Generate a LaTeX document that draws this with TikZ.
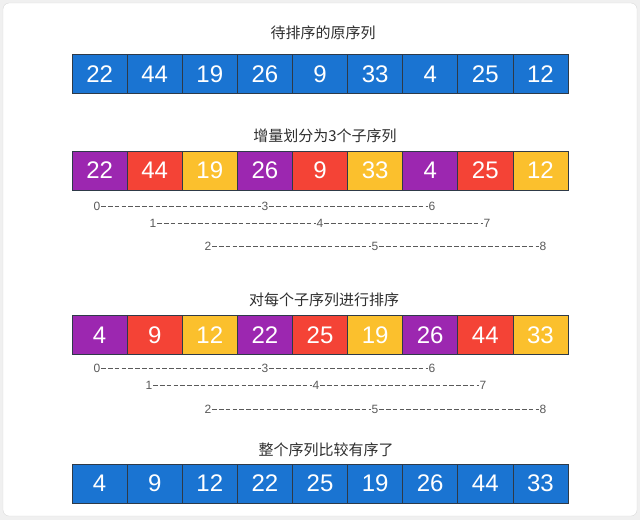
\documentclass[tikz,border=0pt]{standalone}
\usepackage{fontspec}
\setmainfont{Liberation Sans}
\newfontfamily\cjk{Noto Sans CJK SC}
\usepackage{xcolor}
\usepackage{tikz}

\definecolor{cellblue}{HTML}{1A74D2}
\definecolor{cellpurple}{HTML}{9C27B0}
\definecolor{cellred}{HTML}{F44336}
\definecolor{cellamber}{HTML}{FBC02D}
\definecolor{cellline}{HTML}{2E3A48}
\definecolor{idxgray}{HTML}{5A5A5A}

\tikzset{
	cell/.style={draw=cellline, line width=0.7pt, minimum width=55.1pt, minimum height=39pt,
		inner sep=0pt, text=white, font=\fontsize{24}{24}\selectfont},
	title/.style={font=\cjk\fontsize{15}{15}\selectfont, text=black!82},
	idx/.style={inner sep=0.6pt, text=idxgray, font=\fontsize{12}{12}\selectfont},
	idxline/.style={idxgray, line width=0.9pt, dash pattern=on 4.6pt off 2.2pt}
}

\begin{document}
\begin{tikzpicture}[x=1pt, y=-1pt]
			\useasboundingbox (0,0) rectangle (640,520);
			\fill[black!6] (0,0) rectangle (640,520);
			\draw[black!15, fill=white, rounded corners=6pt] (3,3) rectangle (637,516);
			
			\node[title] (t1) at (323,33) {待排序的原序列};
			\node[cell, fill=cellblue] (a1) at (99.6,74) {22};
			\node[cell, fill=cellblue] (a2) at (154.7,74) {44};
			\node[cell, fill=cellblue] (a3) at (209.8,74) {19};
			\node[cell, fill=cellblue] (a4) at (264.9,74) {26};
			\node[cell, fill=cellblue] (a5) at (320.0,74) {9};
			\node[cell, fill=cellblue] (a6) at (375.1,74) {33};
			\node[cell, fill=cellblue] (a7) at (430.2,74) {4};
			\node[cell, fill=cellblue] (a8) at (485.3,74) {25};
			\node[cell, fill=cellblue] (a9) at (540.4,74) {12};
			
			\node[title] (t2) at (325,136) {增量划分为3个子序列};
			\node[cell, fill=cellpurple] (b1) at (99.6,170.5) {22};
			\node[cell, fill=cellred] (b2) at (154.7,170.5) {44};
			\node[cell, fill=cellamber] (b3) at (209.8,170.5) {19};
			\node[cell, fill=cellpurple] (b4) at (264.9,170.5) {26};
			\node[cell, fill=cellred] (b5) at (320.0,170.5) {9};
			\node[cell, fill=cellamber] (b6) at (375.1,170.5) {33};
			\node[cell, fill=cellpurple] (b7) at (430.2,170.5) {4};
			\node[cell, fill=cellred] (b8) at (485.3,170.5) {25};
			\node[cell, fill=cellamber] (b9) at (540.4,170.5) {12};
			
			\node[idx] (p0) at (97,206) {0};
			\node[idx] (p3) at (265,206) {3};
			\node[idx] (p6) at (432,206) {6};
			\node[idx] (p1) at (153,223) {1};
			\node[idx] (p4) at (320,223) {4};
			\node[idx] (p7) at (487,223) {7};
			\node[idx] (p2) at (208,246) {2};
			\node[idx] (p5) at (375,246) {5};
			\node[idx] (p8) at (543,246) {8};
			
			\draw[idxline] (p0) -- (p3);
			\draw[idxline] (p3) -- (p6);
			\draw[idxline] (p1) -- (p4);
			\draw[idxline] (p4) -- (p7);
			\draw[idxline] (p2) -- (p5);
			\draw[idxline] (p5) -- (p8);
			
			\node[title] (t3) at (324,300) {对每个子序列进行排序};
			\node[cell, fill=cellpurple] (c1) at (99.6,335) {4};
			\node[cell, fill=cellred] (c2) at (154.7,335) {9};
			\node[cell, fill=cellamber] (c3) at (209.8,335) {12};
			\node[cell, fill=cellpurple] (c4) at (264.9,335) {22};
			\node[cell, fill=cellred] (c5) at (320.0,335) {25};
			\node[cell, fill=cellamber] (c6) at (375.1,335) {19};
			\node[cell, fill=cellpurple] (c7) at (430.2,335) {26};
			\node[cell, fill=cellred] (c8) at (485.3,335) {44};
			\node[cell, fill=cellamber] (c9) at (540.4,335) {33};
			
			\node[idx] (q0) at (97,368) {0};
			\node[idx] (q3) at (265,368) {3};
			\node[idx] (q6) at (432,368) {6};
			\node[idx] (q1) at (149,385) {1};
			\node[idx] (q4) at (316,385) {4};
			\node[idx] (q7) at (483,385) {7};
			\node[idx] (q2) at (208,409) {2};
			\node[idx] (q5) at (375,409) {5};
			\node[idx] (q8) at (543,409) {8};
			
			\draw[idxline] (q0) -- (q3);
			\draw[idxline] (q3) -- (q6);
			\draw[idxline] (q1) -- (q4);
			\draw[idxline] (q4) -- (q7);
			\draw[idxline] (q2) -- (q5);
			\draw[idxline] (q5) -- (q8);
			
			\node[title] (t4) at (326,450) {整个序列比较有序了};
			\node[cell, fill=cellblue] (d1) at (99.6,483.5) {4};
			\node[cell, fill=cellblue] (d2) at (154.7,483.5) {9};
			\node[cell, fill=cellblue] (d3) at (209.8,483.5) {12};
			\node[cell, fill=cellblue] (d4) at (264.9,483.5) {22};
			\node[cell, fill=cellblue] (d5) at (320.0,483.5) {25};
			\node[cell, fill=cellblue] (d6) at (375.1,483.5) {19};
			\node[cell, fill=cellblue] (d7) at (430.2,483.5) {26};
			\node[cell, fill=cellblue] (d8) at (485.3,483.5) {44};
			\node[cell, fill=cellblue] (d9) at (540.4,483.5) {33};

		\end{tikzpicture}
\end{document}
